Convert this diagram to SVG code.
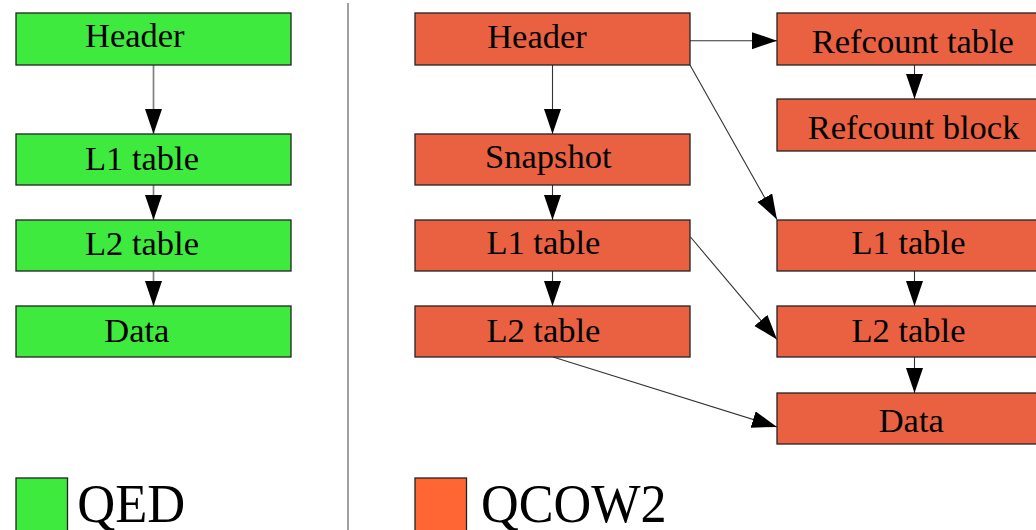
<svg xmlns="http://www.w3.org/2000/svg" width="1036" height="530" viewBox="0 0 1036 530">
  <style>
    .lbl { font-family: "Liberation Serif", "Times New Roman", serif; font-size: 34.5px; fill: #000; }
    .legend { font-family: "Liberation Serif", "Times New Roman", serif; font-size: 55px; fill: #000; }
    .qed { fill: #3dea3d; stroke: #222; stroke-width: 1.3; }
    .qcow { fill: #ea6142; stroke: #222; stroke-width: 1.3; }
    .edge-qed { stroke: #808080; stroke-width: 1.7; fill: none; marker-end: url(#arrow); }
    .edge-qcow { stroke: #333; stroke-width: 1.1; fill: none; marker-end: url(#arrow); }
  </style>
  <defs>
    <marker id="arrow" markerUnits="userSpaceOnUse" markerWidth="26" markerHeight="18" refX="25" refY="8.5" orient="auto">
      <path d="M0,0 L25,8.5 L0,17 z" fill="#000"/>
    </marker>
  </defs>

  <rect width="1036" height="530" fill="#fff"/>

  <!-- divider between the two formats -->
  <line x1="348" y1="3" x2="348" y2="530" stroke="#808080" stroke-width="1.5"/>

  <!-- connectors -->
  <g id="connectors">
    <line class="edge-qed" x1="153.5" y1="65" x2="153.5" y2="134"/>
    <line class="edge-qed" x1="153.5" y1="185" x2="153.5" y2="220"/>
    <line class="edge-qed" x1="153.5" y1="271" x2="153.5" y2="306"/>

    <line class="edge-qcow" x1="690" y1="40.7" x2="777" y2="40.7"/>
    <line class="edge-qcow" x1="552.5" y1="65" x2="552.5" y2="134"/>
    <line class="edge-qcow" x1="914.5" y1="65" x2="914.5" y2="99"/>
    <line class="edge-qcow" x1="690" y1="65" x2="777" y2="219.5"/>
    <line class="edge-qcow" x1="552.5" y1="185" x2="552.5" y2="220"/>
    <line class="edge-qcow" x1="552.5" y1="271" x2="552.5" y2="306"/>
    <line class="edge-qcow" x1="690.5" y1="237" x2="777" y2="339.5"/>
    <line class="edge-qcow" x1="553" y1="357" x2="777" y2="427"/>
    <line class="edge-qcow" x1="914.5" y1="271" x2="914.5" y2="306"/>
    <line class="edge-qcow" x1="914.5" y1="357" x2="914.5" y2="393"/>
  </g>

  <!-- QED nodes -->
  <g id="qed-header"><rect class="qed" x="16" y="13" width="275" height="52"/><text class="lbl" x="85" y="47">Header</text></g>
  <g id="qed-l1"><rect class="qed" x="16" y="134" width="275" height="51"/><text class="lbl" x="85" y="170">L1 table</text></g>
  <g id="qed-l2"><rect class="qed" x="16" y="220" width="275" height="51"/><text class="lbl" x="85" y="254.5">L2 table</text></g>
  <g id="qed-data"><rect class="qed" x="16" y="306" width="275" height="51"/><text class="lbl" x="104.3" y="341.7">Data</text></g>

  <!-- QCOW2 nodes -->
  <g id="qcow-header"><rect class="qcow" x="415" y="13" width="275" height="52"/><text class="lbl" x="487.2" y="47.7">Header</text></g>
  <g id="qcow-snapshot"><rect class="qcow" x="415" y="134" width="275" height="51"/><text class="lbl" x="485" y="168.3">Snapshot</text></g>
  <g id="qcow-l1"><rect class="qcow" x="415" y="220" width="275" height="51"/><text class="lbl" x="486.4" y="254.3">L1 table</text></g>
  <g id="qcow-l2"><rect class="qcow" x="415" y="306" width="275" height="51"/><text class="lbl" x="486.4" y="341.7">L2 table</text></g>

  <g id="qcow-refcount-table"><rect class="qcow" x="777" y="13" width="275" height="52"/><text class="lbl" x="811.8" y="53.3">Refcount table</text></g>
  <g id="qcow-refcount-block"><rect class="qcow" x="777" y="99" width="275" height="52"/><text class="lbl" x="807.7" y="139.3">Refcount block</text></g>
  <g id="qcow-snap-l1"><rect class="qcow" x="777" y="220" width="275" height="51"/><text class="lbl" x="851.5" y="254.3">L1 table</text></g>
  <g id="qcow-snap-l2"><rect class="qcow" x="777" y="306" width="275" height="51"/><text class="lbl" x="851.5" y="341.7">L2 table</text></g>
  <g id="qcow-data"><rect class="qcow" x="777" y="393" width="275" height="51"/><text class="lbl" x="878.7" y="431.7">Data</text></g>

  <!-- legend -->
  <g id="legend-qed">
    <rect x="16" y="478" width="51.5" height="53" fill="#3dea3d" stroke="#222" stroke-width="1.3"/>
    <text class="legend" x="77.3" y="521.7" textLength="108" lengthAdjust="spacingAndGlyphs">QED</text>
  </g>
  <g id="legend-qcow2">
    <rect x="415" y="478" width="51.5" height="53" fill="#ff6633" stroke="#222" stroke-width="1.3"/>
    <text class="legend" x="481" y="522" textLength="185.7" lengthAdjust="spacingAndGlyphs">QCOW2</text>
  </g>
</svg>
